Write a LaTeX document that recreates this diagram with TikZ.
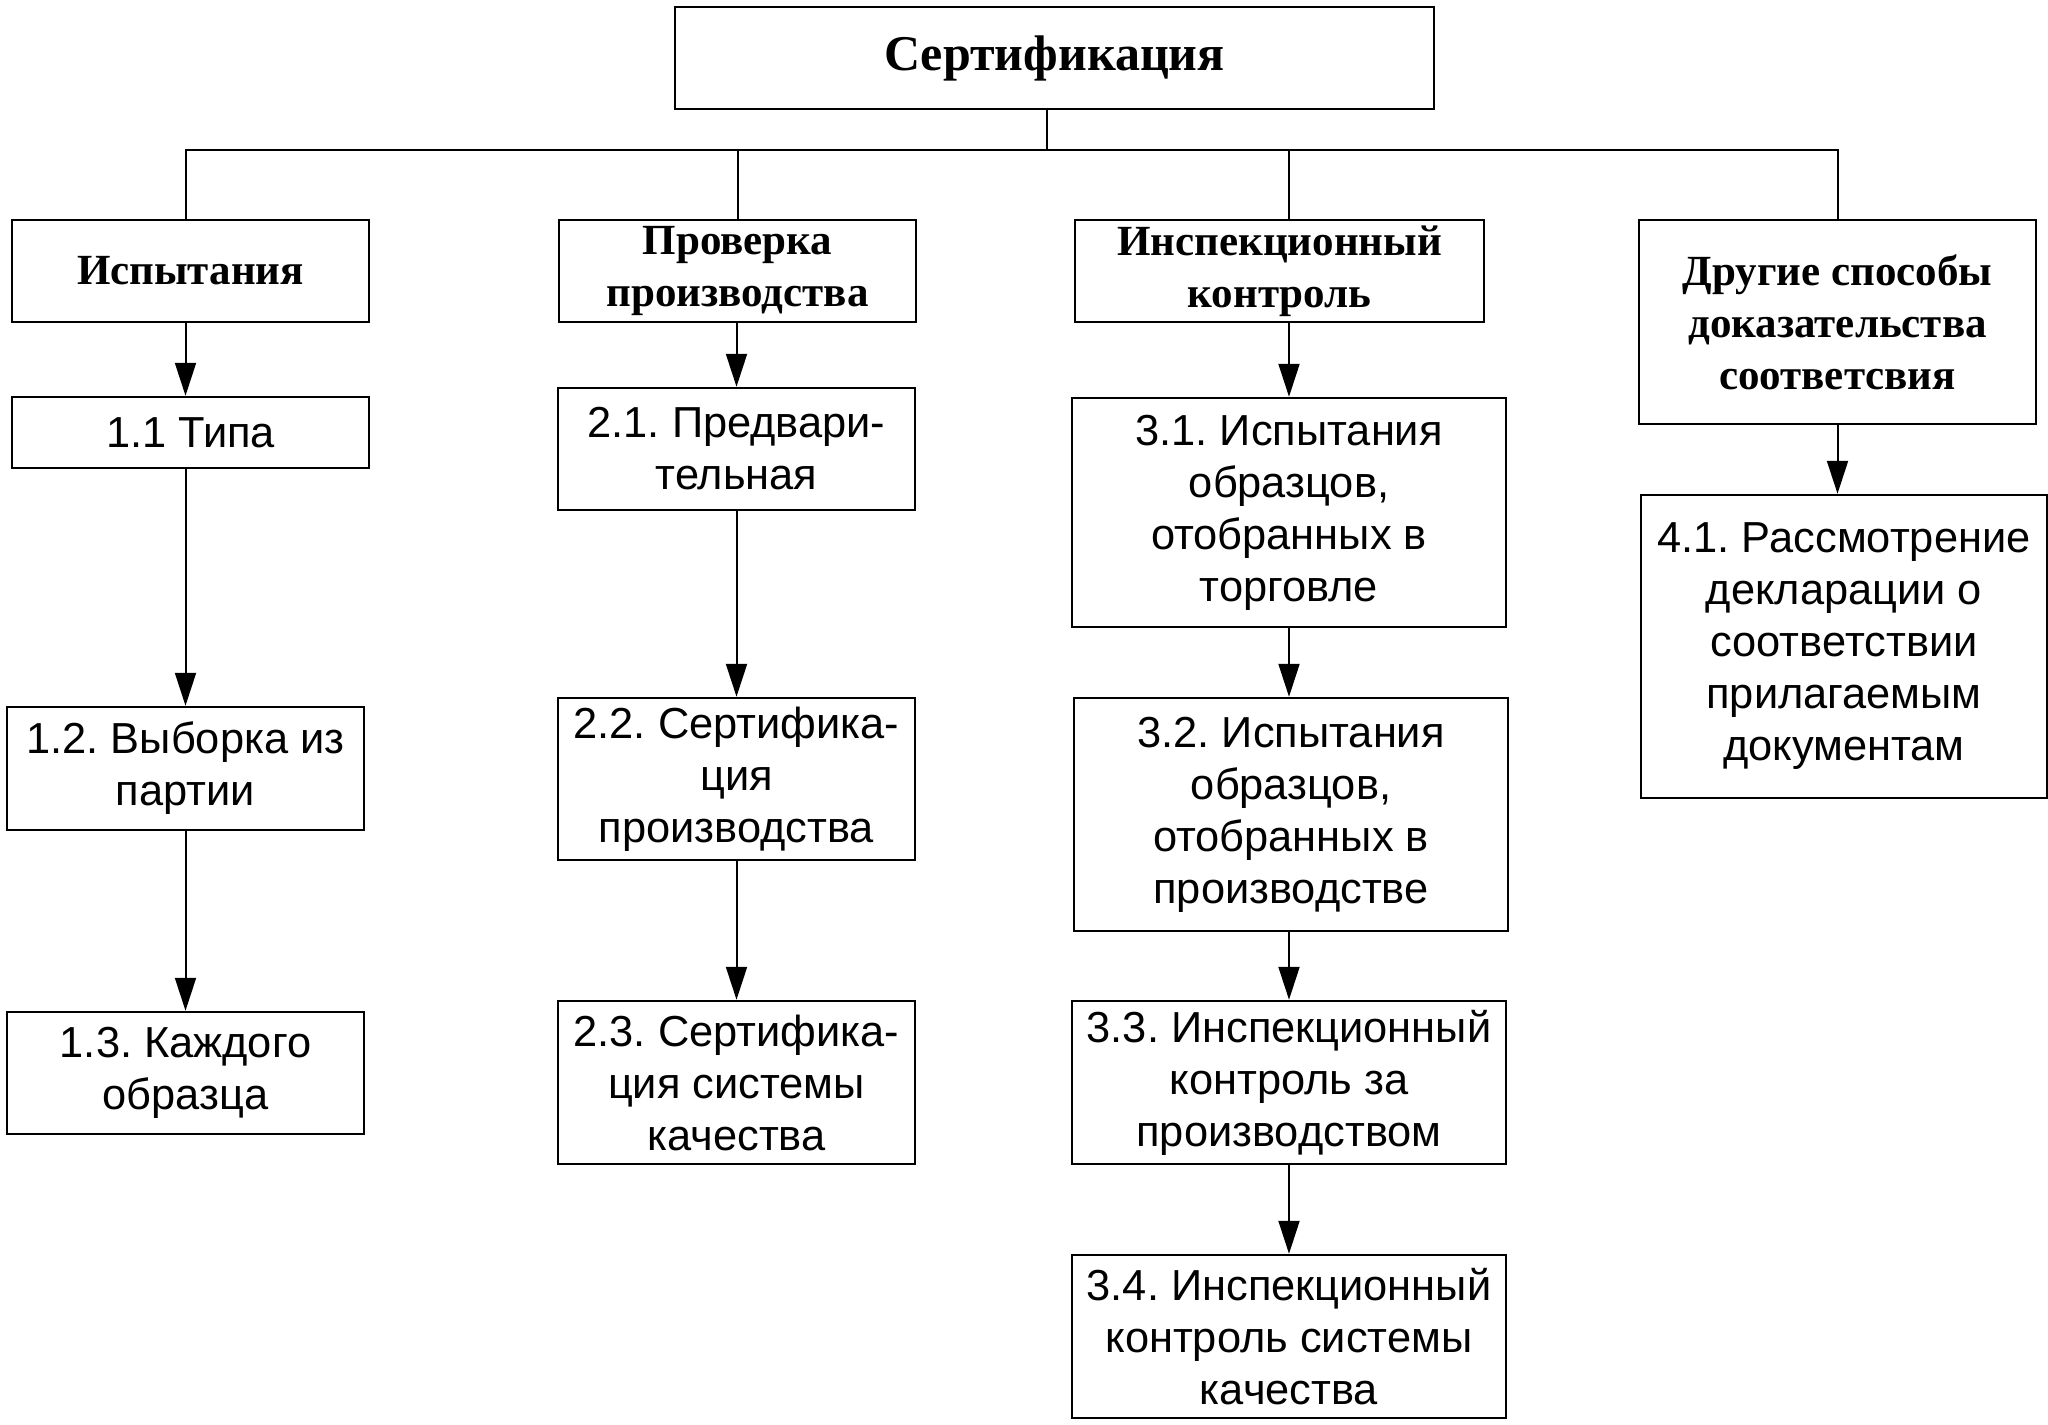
\documentclass[tikz,border=0pt]{standalone}
\usepackage{fontspec}
\setmainfont{Liberation Serif}
\newfontfamily\boxfont{Liberation Sans}
\usetikzlibrary{arrows.meta}
\frenchspacing

\begin{document}
\begin{tikzpicture}[x=0.5pt,y=-0.5pt,
		hdr/.style={draw,line width=1.25pt,align=center,inner sep=2pt,font=\fontsize{21.5}{26}\selectfont\bfseries},
		itm/.style={draw,line width=1.25pt,align=center,inner sep=2pt,font=\boxfont\fontsize{21.7}{26}\selectfont},
		conn/.style={line width=1pt},
		arr/.style={line width=1pt,-{Triangle[length=16.5pt,width=10.5pt]}}]
			%%%%% START %%%%%
			
			\useasboundingbox (0,0) rectangle (2048,1424);
			
			\node[hdr,minimum width=379.5pt,minimum height=51pt,font=\fontsize{25}{30}\selectfont\bfseries] (top) at (1054.5,58) {Сертификация};
			
			\node[hdr,minimum width=178.5pt,minimum height=51pt] (h1) at (190.5,271) {Испытания};
			\node[hdr,minimum width=178.5pt,minimum height=51pt] (h2) at (737.5,271) {Проверка\\производства};
			\node[hdr,minimum width=204.5pt,minimum height=51pt] (h3) at (1279.5,271) {Инспекционный\\контроль};
			\node[hdr,minimum width=198.5pt,minimum height=102pt] (h4) at (1837.5,322) {Другие способы\\доказательства\\соответсвия};
			
			\node[itm,minimum width=178.5pt,minimum height=35.5pt] (t11) at (190.5,432.5) {1.1 Типа};
			\node[itm,minimum width=178.5pt,minimum height=61.5pt] (t12) at (185.5,768.5) {1.2. Выборка из\\партии};
			\node[itm,minimum width=178.5pt,minimum height=61pt] (t13) at (185.5,1073) {1.3. Каждого\\образца};
			
			\node[itm,minimum width=178.5pt,minimum height=61pt] (t21) at (736.5,449) {2.1. Предвари-\\тельная};
			\node[itm,minimum width=178.5pt,minimum height=81pt] (t22) at (736.5,779) {2.2. Сертифика-\\ция\\производства};
			\node[itm,minimum width=178.5pt,minimum height=81.5pt] (t23) at (736.5,1082.5) {2.3. Сертифика-\\ция системы\\качества};
			
			\node[itm,minimum width=217pt,minimum height=114.5pt] (t31) at (1289,512.5) {3.1. Испытания\\образцов,\\отобранных в\\торговле};
			\node[itm,minimum width=217pt,minimum height=116.5pt] (t32) at (1291,814.5) {3.2. Испытания\\образцов,\\отобранных в\\производстве};
			\node[itm,minimum width=217pt,minimum height=81.5pt] (t33) at (1289,1082.5) {3.3. Инспекционный\\контроль за\\производством};
			\node[itm,minimum width=217pt,minimum height=81.5pt] (t34) at (1289,1336.5) {3.4. Инспекционный\\контроль системы\\качества};
			
			\node[itm,minimum width=203pt,minimum height=151.5pt] (t41) at (1844,646.5) {4.1. Рассмотрение\\декларации о\\соответствии\\прилагаемым\\документам};
			
			% bus from the top box
			\coordinate (bus) at (1047,150);
			\draw[conn] (top.south -| bus) -- (bus);
			\draw[conn] (t12.north |- h1.north) -- (t12.north |- bus) -- (h4.north |- bus) -- (h4.north);
			\draw[conn] (h2.north) -- (h2.north |- bus);
			\draw[conn] (t31.north |- h3.north) -- (t31.north |- bus);
			
			\draw[arr] (t12.north |- h1.south) -- (t12.north |- t11.north);
			\draw[arr] (t12.north |- t11.south) -- (t12.north);
			\draw[arr] (t12.south) -- (t13.north);
			
			\draw[arr] (h2.south -| t21.north) -- (t21.north);
			\draw[arr] (t21.south) -- (t22.north);
			\draw[arr] (t22.south) -- (t23.north);
			
			\draw[arr] (t31.north |- h3.south) -- (t31.north);
			\draw[arr] (t31.south) -- (t31.south |- t32.north);
			\draw[arr] (t31.south |- t32.south) -- (t33.north);
			\draw[arr] (t33.south) -- (t34.north);
			
			\draw[arr] (h4.south) -- (h4.south |- t41.north);
			
			%%%%% END %%%%%
		\end{tikzpicture}
\end{document}
